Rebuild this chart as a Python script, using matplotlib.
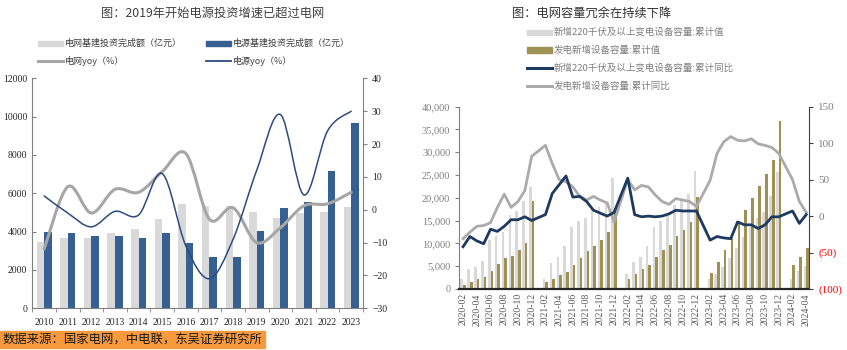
import numpy as np
import pandas as pd
import matplotlib
matplotlib.use('Agg')
import matplotlib.pyplot as plt
from matplotlib.path import Path
from matplotlib.patches import PathPatch, Rectangle
from matplotlib.lines import Line2D

plt.rcParams['font.family'] = ['Noto Sans CJK SC', 'DejaVu Sans']
serif = ['Liberation Serif', 'DejaVu Serif']

# ---- 左图数据：电网 / 电源 投资 ----
years = ['2010', '2011', '2012', '2013', '2014', '2015', '2016',
         '2017', '2018', '2019', '2020', '2021', '2022', '2023']
grid_inv = [3480, 3690, 3690, 3910, 4120, 4660, 5440, 5340, 5360, 5040, 4700, 4950, 5030, 5270]
power_inv = [3965, 3913, 3791, 3757, 3652, 3930, 3391, 2661, 2696, 4052, 5217, 5530, 7183, 9687]
grid_yoy = [-12, 7, -1, 6.2, 5.3, 11.6, 17.1, -2.9, 0.6, -10, -5.5, 1.2, 1.8, 5.3]
power_yoy = [4.2, -1, -5.2, -0.5, -1.6, 11, -11, -21, -9, 12, 29, 4.5, 24, 30]

# ---- 右图数据：月度累计（1月无数据） ----
months = list(pd.period_range('2020-02', '2024-04', freq='M').strftime('%Y-%m'))
sub_cum = [2200, 4400, 4900, 6100, 10700, 11600, 12600, 16200, 17200, 19200, 22400, None,
           2200, 5800, 7100, 9500, 13700, 14900, 15600, 17300, 18100, 19000, 24300, None,
           3400, 6000, 7100, 9500, 13700, 14900, 16000, 18400, 19500, 20800, 25900, None,
           2300, 3400, 4900, 6700, 9000, 11500, 13700, 15500, 17000, 20300, 25700, None,
           2300, 3900, 5000]
gen_cum = [880, 1540, 2100, 2700, 3900, 5500, 6800, 7300, 8600, 10200, 19200, None,
           1600, 2300, 3000, 3700, 5200, 6900, 8300, 9400, 10700, 12400, 17600, None,
           2300, 3300, 4300, 5300, 7100, 8600, 9700, 11600, 12900, 14800, 20100, None,
           3500, 6000, 8600, 11300, 14500, 17300, 20000, 22600, 25200, 28400, 36900, None,
           5300, 7000, 9000]
sub_yoy = [-42, -28, -34, -38, -18, -21, -14, -5, -5, -1, -6, None,
           2, 31, 43, 55, 26, 27, 20, 8, 4, 0, 5, None,
           52, 2, -1, 0, -1, 0, 3, 8, 7, 7, 7, None,
           -33, -28, -30, -31, -8, -12, -12, -17, -12, -1, -1, None,
           7, -10, 2]
gen_yoy = [-31, -22, -14, -13, -9, 12, 30, 12, 20, 35, 82, None,
           97, 72, 50, 47, 40, 27, 22, 27, 22, 18, -8, None,
           50, 36, 42, 40, 29, 20, 16, 24, 22, 20, 13, None,
           49, 86, 102, 109, 104, 103, 106, 99, 97, 94, 86, None,
           50, 20, 5]

W, H = 847, 350
fig = plt.figure(figsize=(W / 100, H / 100), dpi=100)


def fx(px):
    return px / W


def fy(py):
    return 1 - py / H


def smooth_path(xs, ys):
    # Excel式平滑线：贝塞尔曲线经过每个数据点
    pts = np.column_stack([xs, ys]).astype(float)
    n = len(pts)
    verts = [pts[0]]
    codes = [Path.MOVETO]
    for i in range(n - 1):
        p0 = pts[max(i - 1, 0)]
        p1 = pts[i]
        p2 = pts[i + 1]
        p3 = pts[min(i + 2, n - 1)]
        verts += [p1 + (p2 - p0) / 6, p2 - (p3 - p1) / 6, p2]
        codes += [Path.CURVE4] * 3
    return Path(verts, codes)


def legend_item(x, y, text, color, kind, lw=2, fs=6.5, tcolor='#404040'):
    if kind == 'bar':
        fig.add_artist(Rectangle((fx(x), fy(y + 2.6)), 25 / W, 5.2 / H,
                                 transform=fig.transFigure, color=color))
    else:
        fig.add_artist(Line2D([fx(x), fx(x + 25)], [fy(y), fy(y)],
                              transform=fig.transFigure, color=color, lw=lw))
    fig.text(fx(x + 27), fy(y), text, fontsize=fs, color=tcolor, va='center', ha='left')


# ================= 左图 =================
ax1 = fig.add_axes([fx(32.3), fy(308.3), 330.7 / W, 230 / H])
x = np.arange(len(years))
w = 0.32
ax1.bar(x - w / 2, grid_inv, w, color='#D9D9D9')
ax1.bar(x + w / 2, power_inv, w, color='#366092')
ax1.set_xlim(-0.5, len(years) - 0.5)
ax1.set_ylim(0, 12000)
ax1.set_yticks(range(0, 12001, 2000))
ax1.set_xticks(x)
ax1.set_xticklabels(years)
ax1.set_xticks(np.arange(-0.5, len(years), 1), minor=True)
ax1.tick_params(axis='x', which='major', length=0, pad=7)
ax1.tick_params(axis='x', which='minor', length=3, direction='out', color='#808080')
ax1.tick_params(axis='y', length=3, direction='in', color='#808080')
for lab in ax1.get_xticklabels() + ax1.get_yticklabels():
    lab.set_family(serif)
    lab.set_fontsize(7)
    lab.set_color('#262626')
for s in ['top', 'right']:
    ax1.spines[s].set_visible(False)
for s in ['left', 'bottom']:
    ax1.spines[s].set_color('#808080')
    ax1.spines[s].set_linewidth(0.8)

ax1b = ax1.twinx()
ax1b.set_ylim(-30, 40)
ax1b.set_yticks(range(-30, 41, 10))
ax1b.add_patch(PathPatch(smooth_path(x, grid_yoy), fill=False, edgecolor='#A6A6A6',
                         lw=2.2, capstyle='round'))
ax1b.add_patch(PathPatch(smooth_path(x, power_yoy), fill=False, edgecolor='#2B4C7E',
                         lw=1.1, capstyle='round'))
ax1b.tick_params(axis='y', length=3, direction='out', color='#808080')
for lab in ax1b.get_yticklabels():
    lab.set_family(serif)
    lab.set_fontsize(7)
    lab.set_color('#262626')
for s in ['top', 'left', 'bottom']:
    ax1b.spines[s].set_visible(False)
ax1b.spines['right'].set_color('#808080')
ax1b.spines['right'].set_linewidth(0.8)

fig.text(fx(213), fy(13.5), '图：2019年开始电源投资增速已超过电网', ha='center', va='center',
         fontsize=8.8, color='#404040')
legend_item(38, 43.3, '电网基建投资完成额（亿元）', '#D9D9D9', 'bar')
legend_item(206, 43.3, '电源基建投资完成额（亿元）', '#366092', 'bar')
legend_item(38, 61, '电网yoy（%）', '#A6A6A6', 'line', lw=2.2)
legend_item(206, 61, '电源yoy（%）', '#2B4C7E', 'line', lw=1.3)

# ================= 右图 =================
ax2 = fig.add_axes([fx(459.3), fy(289), 350 / W, 182.3 / H])
xm = np.arange(len(months))
sub_arr = np.array(sub_cum, dtype=float)
gen_arr = np.array(gen_cum, dtype=float)
ok = ~np.isnan(sub_arr)
bw = 0.38
ax2.bar(xm[ok] - bw / 2, sub_arr[ok], bw, color='#D9D9D9', zorder=2)
ax2.bar(xm[ok] + bw / 2, gen_arr[ok], bw, color='#9E9153', zorder=2)
ax2.set_xlim(-0.55, len(months) - 0.55)
ax2.set_ylim(0, 40000)
ax2.set_yticks(range(0, 40001, 5000))
ax2.set_yticklabels([f'{v:,}' for v in range(0, 40001, 5000)])
ax2.set_xticks(xm[::2])
ax2.set_xticklabels(months[::2], rotation=90)
ax2.tick_params(axis='x', length=0, pad=3)
ax2.tick_params(axis='y', length=3, direction='out', color='#7F7F7F')
for lab in ax2.get_xticklabels():
    lab.set_family(serif)
    lab.set_fontsize(7)
    lab.set_color('#595959')
for lab in ax2.get_yticklabels():
    lab.set_family(serif)
    lab.set_fontsize(7.5)
    lab.set_color('#7F7F7F')
for s in ['top', 'right']:
    ax2.spines[s].set_visible(False)
ax2.spines['left'].set_color('#7F7F7F')
ax2.spines['left'].set_linewidth(0.8)
ax2.spines['bottom'].set_color('#262626')
ax2.spines['bottom'].set_linewidth(1.6)

ax2b = ax2.twinx()
ax2b.set_ylim(-100, 150)
sub_y = np.array(sub_yoy, dtype=float)
gen_y = np.array(gen_yoy, dtype=float)
ax2b.plot(xm[ok], gen_y[ok], color='#ABABAB', lw=2.0, solid_joinstyle='round')
ax2b.plot(xm[ok], sub_y[ok], color='#1F3A60', lw=2.0, solid_joinstyle='round')
rt = list(range(-100, 151, 50))
ax2b.set_yticks(rt)
ax2b.set_yticklabels([f'({-v})' if v < 0 else str(v) for v in rt])
for lab, v in zip(ax2b.get_yticklabels(), rt):
    lab.set_family(serif)
    lab.set_fontsize(8)
    lab.set_color('#FF0000' if v < 0 else '#7F7F7F')
ax2b.tick_params(axis='y', length=3, direction='out', color='#404040')
for s in ['top', 'left', 'bottom']:
    ax2b.spines[s].set_visible(False)
ax2b.spines['right'].set_color('#404040')
ax2b.spines['right'].set_linewidth(0.8)

fig.text(fx(592), fy(13.5), '图：电网容量冗余在持续下降', ha='center', va='center',
         fontsize=8.8, color='#333333')
legend_item(527, 32.3, '新增220千伏及以上变电设备容量:累计值', '#D9D9D9', 'bar',
            fs=6.8, tcolor='#7F7F7F')
legend_item(527, 50, '发电新增设备容量:累计值', '#9E9153', 'bar', fs=6.8, tcolor='#7F7F7F')
legend_item(527, 68.3, '新增220千伏及以上变电设备容量:累计同比', '#1F3A60', 'line', lw=2.2,
            fs=6.8, tcolor='#7F7F7F')
legend_item(527, 86, '发电新增设备容量:累计同比', '#ABABAB', 'line', lw=2.2,
            fs=6.8, tcolor='#7F7F7F')

# 数据来源
fig.add_artist(Rectangle((0, fy(348.3)), 265 / W, 17.6 / H, transform=fig.transFigure,
                         color='#F79A3E'))
fig.text(fx(2.5), fy(339.5), '数据来源：国家电网，中电联，东吴证券研究所', fontsize=8.9,
         color='#1A1A1A', va='center', ha='left')

fig.savefig('out.png', dpi=100)
